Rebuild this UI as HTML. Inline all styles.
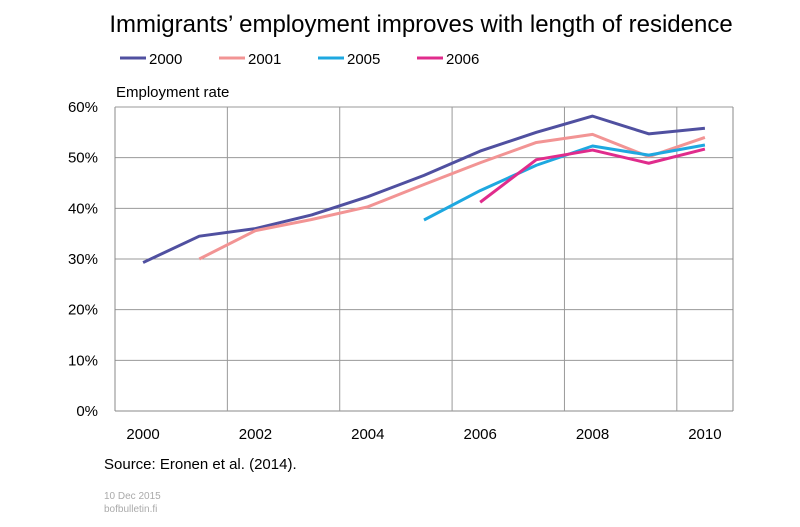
<!DOCTYPE html>
<html><head><meta charset="utf-8"><style>
body{margin:0;background:#fff;width:800px;height:522px;overflow:hidden;font-family:"Liberation Sans",sans-serif}
</style></head><body>
<svg width="800" height="522" font-family="Liberation Sans, sans-serif">
<text x="421" y="32" text-anchor="middle" font-size="24" fill="#000">Immigrants’ employment improves with length of residence</text>
<g id="legend"></g>
<text x="116" y="97" font-size="15">Employment rate</text>
<g id="grid"></g><g id="axes"></g><g id="series"></g>
<text x="104" y="469" font-size="15">Source: Eronen et al. (2014).</text>
<text x="104" y="499" font-size="10" fill="#aaa">10 Dec 2015</text>
<text x="104" y="512" font-size="10" fill="#aaa">bofbulletin.fi</text>
</svg>
<script>
const categories=[2000,2001,2002,2003,2004,2005,2006,2007,2008,2009,2010];
const xTickLabels=["2000","2002","2004","2006","2008","2010"];
const yTicks=[0,10,20,30,40,50,60];
const s2000=[29.3,34.5,36,38.7,42.3,46.5,51.3,55,58.2,54.7,55.8];
const s2001=[null,30,35.6,37.8,40.3,44.7,49,53,54.6,50.2,54];
const s2005=[null,null,null,null,null,37.7,43.5,48.5,52.3,50.5,52.5];
const s2006=[null,null,null,null,null,null,41.2,49.6,51.5,48.9,51.7];
const seriesNames=["2000","2001","2005","2006"];
const NS="http://www.w3.org/2000/svg";
const L=115,R=733,T=107,B=411;
const bw=(R-L)/categories.length;
const x=i=>L+bw*(i+0.5);
const y=v=>B-(v/60)*(B-T);
function mk(tag,attrs,parent){const e=document.createElementNS(NS,tag);for(const k in attrs)e.setAttribute(k,attrs[k]);parent.appendChild(e);return e;}
const grid=document.getElementById('grid'),axes=document.getElementById('axes'),ser=document.getElementById('series'),leg=document.getElementById('legend');
yTicks.forEach(t=>{const l=mk('line',{x1:L,x2:R,y1:y(t),y2:y(t),stroke:t===0?'#888':'#999','stroke-width':1},grid);

const tx=mk('text',{x:L-17,y:y(t)+5,'text-anchor':'end','font-size':15},axes);tx.textContent=t+'%';
});
for(let i=2;i<categories.length;i+=2){const l=mk('line',{x1:L+bw*i,x2:L+bw*i,y1:T,y2:B,stroke:'#999','stroke-width':1},grid);
}
[L,R].forEach(xx=>{const l=mk('line',{x1:xx,x2:xx,y1:T,y2:B,stroke:'#888'},grid);});
mk('line',{x1:L,x2:R,y1:T,y2:T,stroke:'#999'},grid);
xTickLabels.forEach(lb=>{const i=categories.indexOf(+lb);const tx=mk('text',{x:x(i),y:439,'text-anchor':'middle','font-size':15},axes);tx.textContent=lb;
});
const colors=["#5050a0","#f29494","#1ea8e0","#e02c8c"];
[s2000,s2001,s2005,s2006].forEach((s,k)=>{let d='';s.forEach((v,i)=>{if(v==null)return;d+=(d?'L':'M')+x(i)+','+y(v);});
const p=mk('path',{d:d,fill:'none',stroke:colors[k],'stroke-width':3,'stroke-linejoin':'round'},ser);

const lx=120+k*99;const ll=mk('line',{x1:lx,x2:lx+26,y1:58,y2:58,stroke:colors[k],'stroke-width':3},leg);

const lt=mk('text',{x:lx+29,y:64,'font-size':15},leg);lt.textContent=seriesNames[k];
});
</script>
</body></html>
